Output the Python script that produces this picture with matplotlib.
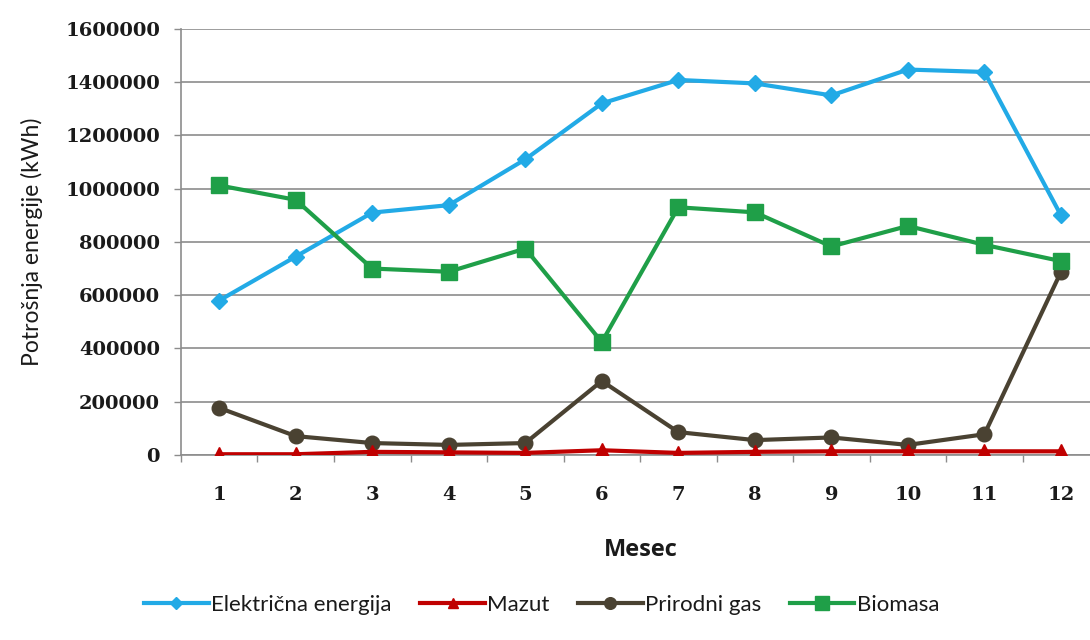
import matplotlib
matplotlib.use("Agg")
import matplotlib.pyplot as plt
from matplotlib.ticker import FixedLocator

months = [1, 2, 3, 4, 5, 6, 7, 8, 9, 10, 11, 12]
elektricna = [580000, 745000, 910000, 938000, 1110000, 1320000, 1408000, 1395000, 1350000, 1447000, 1438000, 900000]
mazut = [3000, 3000, 12000, 10000, 8000, 18000, 8000, 12000, 14000, 14000, 14000, 14000]
prirodni_gas = [177000, 71000, 45000, 38000, 45000, 278000, 86000, 56000, 66000, 38000, 78000, 687000]
biomasa = [1012000, 958000, 700000, 688000, 775000, 424000, 930000, 911000, 783000, 860000, 789000, 728000]
yticks = [0, 200000, 400000, 600000, 800000, 1000000, 1200000, 1400000, 1600000]

plt.rcParams['font.family'] = ["Lato", 'DejaVu Sans']

fig = plt.figure(figsize=(10.9, 6.4), dpi=100)
ax = fig.add_axes([0.166, 0.289, 0.834, 0.666])

grid_c = "#8c8c8c"
lw = 3.0
ax.plot(months, elektricna, color="#22aae6", lw=lw, marker="D", ms=8, label="Električna energija", zorder=3)
ax.plot(months, mazut, color="#c00000", lw=lw, marker="^", ms=9.5, label="Mazut", zorder=4)
ax.plot(months, prirodni_gas, color="#4a4232", lw=lw, marker="o", ms=10.5, label="Prirodni gas", zorder=3)
ax.plot(months, biomasa, color="#1f9f48", lw=lw, marker="s", ms=12, label="Biomasa", zorder=3)

ax.set_xlim(0.5, 12.38)
ax.set_ylim(0, 1600000)
ax.set_yticks(yticks)
ax.set_yticklabels([str(v) for v in yticks])
ax.set_xticks(months)
ax.set_xticklabels([str(m) for m in months])
ax.xaxis.set_minor_locator(FixedLocator([m + 0.5 for m in range(0, 13)]))
ax.tick_params(axis='x', which='major', length=0, pad=22)
ax.tick_params(axis='x', which='minor', length=5, color=grid_c, width=1)
ax.tick_params(axis='y', which='major', length=5, color=grid_c, width=1, pad=10)
for lab in ax.get_xticklabels() + ax.get_yticklabels():
    lab.set_fontfamily("DejaVu Serif")
    lab.set_fontweight("bold")
    lab.set_fontsize(14)
    lab.set_color("#1a1a1a")

ax.grid(axis='y', color=grid_c, lw=1.2, zorder=0)
ax.set_axisbelow(True)
for s in ["top", "right"]:
    ax.spines[s].set_visible(False)
for s in ["left", "bottom"]:
    ax.spines[s].set_color(grid_c)
    ax.spines[s].set_linewidth(1.2)

ax.set_ylabel("Potrošnja energije (kWh)", fontsize=16.5, color="#1a1a1a")
ax.yaxis.set_label_coords(-0.152, 0.5)
fig.text(0.588, 0.14, "Mesec", fontsize=17, fontweight="bold", ha="center", va="center",
         family="Open Sans", color="#1a1a1a")

leg = fig.legend(loc="center", bbox_to_anchor=(0.497, 0.055), ncol=4, frameon=False,
                 fontsize=16, handlelength=2.9, columnspacing=1.3, handletextpad=0.1, markerscale=0.8)
for t in leg.get_texts():
    t.set_color("#1a1a1a")

fig.savefig("out.png", dpi=100)
